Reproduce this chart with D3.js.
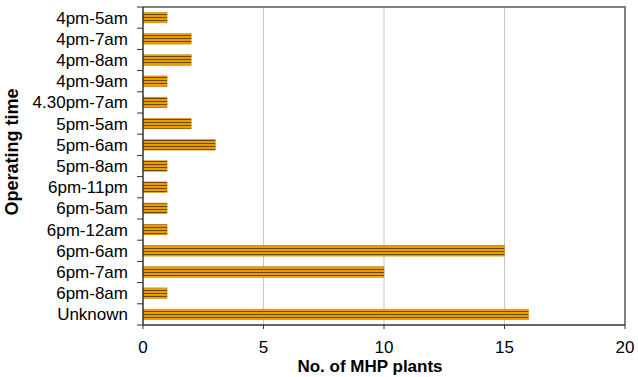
<!DOCTYPE html>
<html><head><meta charset="utf-8">
<script src="https://cdn.jsdelivr.net/npm/d3@7"></script>
<style>body{margin:0;background:#fff}svg{display:block}</style>
</head><body>
<script>
const categories = ["4pm-5am","4pm-7am","4pm-8am","4pm-9am","4.30pm-7am","5pm-5am","5pm-6am","5pm-8am","6pm-11pm","6pm-5am","6pm-12am","6pm-6am","6pm-7am","6pm-8am","Unknown"];
const values = [1,2,2,1,1,2,3,1,1,1,1,15,10,1,16];
const xTicks = [0,5,10,15,20];

const W = 638, H = 377;
const m = {left:143, right:13, top:7, bottom:52};
const FF = "Liberation Sans, Arial, sans-serif";
const svg = d3.select("body").append("svg").attr("width",W).attr("height",H);
const defs = svg.append("defs");
const pat = defs.append("pattern").attr("id","stripe").attr("patternUnits","userSpaceOnUse")
  .attr("width",8).attr("height",3).attr("y",0);
pat.append("rect").attr("width",8).attr("height",3).attr("fill","#e89e00");
pat.append("rect").attr("y",2).attr("width",8).attr("height",1).attr("fill","#6b4800");

const x = d3.scaleLinear().domain([0,20]).range([m.left, W-m.right]);
const y = d3.scaleBand().domain(categories).range([m.top, H-m.bottom]).paddingInner(0.5).paddingOuter(0.25);
const yb = d3.scaleBand().domain(categories).range([m.top, H-m.bottom]);

// grid
svg.append("g").selectAll("line").data(xTicks.filter(t=>t>0&&t<20)).join("line")
  .attr("x1",d=>x(d)).attr("x2",d=>x(d)).attr("y1",m.top).attr("y2",H-m.bottom)
  .attr("stroke","#c8c8c8").attr("stroke-width",1);
// top/right frame
svg.append("path").attr("d",`M${m.left},${m.top}H${W-m.right}V${H-m.bottom}`)
  .attr("fill","none").attr("stroke","#808080").attr("stroke-width",2);

// bars
svg.append("g").selectAll("rect").data(values).join("rect")
  .attr("x",x(0)).attr("y",(d,i)=>y(categories[i]))
  .attr("width",d=>x(d)-x(0)).attr("height",y.bandwidth())
  .attr("fill","url(#stripe)").attr("stroke","#c98800").attr("stroke-width",0.5);

// y axis
const ya = svg.append("g");
ya.append("line").attr("x1",m.left).attr("x2",m.left).attr("y1",m.top).attr("y2",H-m.bottom).attr("stroke","#333").attr("stroke-width",1.5);
const bounds = categories.map(c=>yb(c)).concat([H-m.bottom]);
ya.selectAll("line.t").data(bounds).join("line").attr("class","t")
  .attr("x1",m.left-6).attr("x2",m.left).attr("y1",d=>d).attr("y2",d=>d).attr("stroke","#333");
ya.selectAll("text").data(categories).join("text")
  .attr("x",128).attr("y",d=>yb(d)+yb.bandwidth()/2).attr("dy","0.35em")
  .attr("text-anchor","end").attr("font-family",FF)
  .attr("font-size",17).attr("fill","#000").text(d=>d);

// x axis
const xa = svg.append("g");
xa.append("line").attr("x1",m.left).attr("x2",W-m.right).attr("y1",H-m.bottom).attr("y2",H-m.bottom).attr("stroke","#333").attr("stroke-width",1.5);
xa.selectAll("line.t").data(xTicks).join("line").attr("class","t")
  .attr("x1",d=>x(d)).attr("x2",d=>x(d)).attr("y1",H-m.bottom).attr("y2",H-m.bottom+4).attr("stroke","#333");
xa.selectAll("text").data(xTicks).join("text")
  .attr("x",d=>x(d)).attr("y",353).attr("text-anchor","middle")
  .attr("font-family",FF).attr("font-size",17).text(d=>d);

svg.append("text").attr("x",370).attr("y",372).attr("text-anchor","middle")
  .attr("font-family",FF).attr("font-size",17).attr("font-weight","bold")
  .text("No. of MHP plants");
svg.append("text").attr("transform","translate(18,152) rotate(-90)").attr("text-anchor","middle")
  .attr("font-family",FF).attr("font-size",18).attr("font-weight","bold")
  .text("Operating time");
</script>
</body></html>
